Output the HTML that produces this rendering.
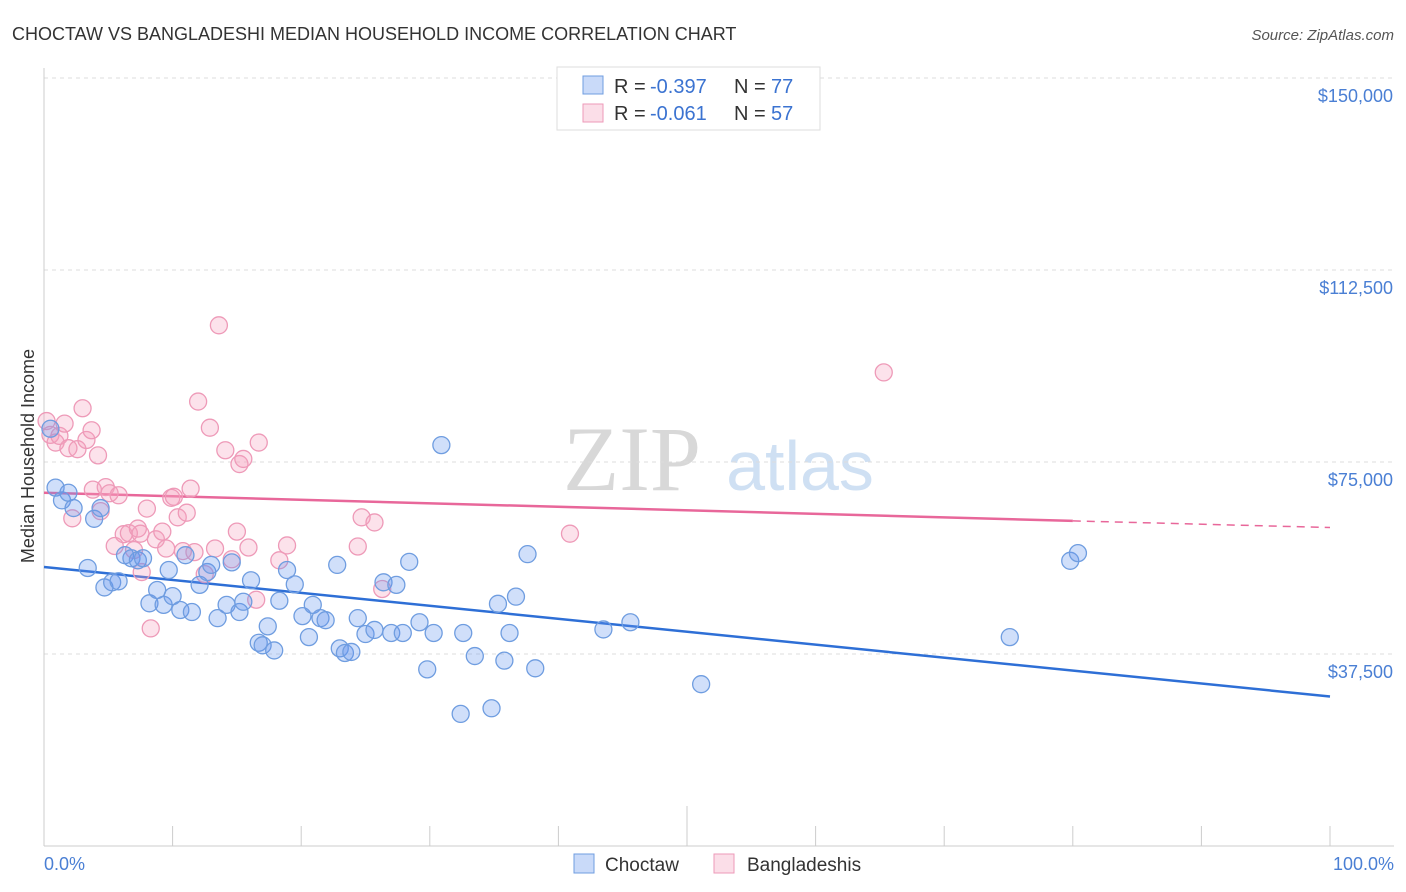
<!DOCTYPE html>
<html><head><meta charset="utf-8"><style>
body{margin:0;background:#fff;font-family:"Liberation Sans",sans-serif}
svg{display:block}
</style></head><body>
<svg width="1406" height="892" viewBox="0 0 1406 892" xmlns="http://www.w3.org/2000/svg" font-family="Liberation Sans, sans-serif">
<text x="12" y="40" font-size="18" fill="#333">CHOCTAW VS BANGLADESHI MEDIAN HOUSEHOLD INCOME CORRELATION CHART</text>
<text x="1394" y="40" font-size="15" fill="#555" text-anchor="end" font-style="italic">Source: ZipAtlas.com</text>
<g><text x="632" y="490" font-size="92" fill="#d8d8d8" font-family="Liberation Serif, serif" text-anchor="middle">ZIP</text><text x="800" y="490" font-size="70" fill="#cfe0f3" text-anchor="middle">atlas</text></g>
<g id="grid"></g>
<line x1="44" y1="68" x2="44" y2="846" stroke="#ccc"/>
<line x1="44" y1="846" x2="1394" y2="846" stroke="#ccc"/>
<g id="xticks"></g>
<text transform="translate(34,456) rotate(-90)" font-size="18" fill="#333" text-anchor="middle">Median Household Income</text>
<text x="44" y="870" font-size="18" fill="#4a7fd4">0.0%</text>
<text x="1394" y="870" font-size="18" fill="#4a7fd4" text-anchor="end">100.0%</text>
<g id="lines"></g>
<g id="pts"></g>
<g>
<rect x="557" y="67" width="263" height="63" fill="#fff" stroke="#ddd"/>
<rect x="583" y="76" width="20" height="18" fill="rgba(100,149,237,0.35)" stroke="#6f9de0"/>
<rect x="583" y="104" width="20" height="18" fill="rgba(244,160,190,0.35)" stroke="#ee9ab8"/>
<text x="614" y="93" font-size="20" fill="#333">R =</text><text x="650" y="93" font-size="20" fill="#3b73d1">-0.397</text>
<text x="734" y="93" font-size="20" fill="#333">N =</text><text x="771" y="93" font-size="20" fill="#3b73d1">77</text>
<text x="614" y="120" font-size="20" fill="#333">R =</text><text x="650" y="120" font-size="20" fill="#3b73d1">-0.061</text>
<text x="734" y="120" font-size="20" fill="#333">N =</text><text x="771" y="120" font-size="20" fill="#3b73d1">57</text>
</g>
<g>
<rect x="574" y="854" width="20" height="19" fill="rgba(100,149,237,0.35)" stroke="#6f9de0"/>
<text x="605" y="871" font-size="19" fill="#333">Choctaw</text>
<rect x="714" y="854" width="20" height="19" fill="rgba(244,160,190,0.35)" stroke="#ee9ab8"/>
<text x="747" y="871" font-size="19" fill="#333">Bangladeshis</text>
</g>
</svg>
<script>
const yTicks=[37500,75000,112500,150000];
const yTickLabels=["$37,500","$75,000","$112,500","$150,000"];
const choctawX=[0.5,0.9,1.4,1.9,2.3,3.4,3.9,4.4,4.7,5.3,5.8,6.3,6.8,7.3,7.7,8.2,8.8,9.3,9.7,10.0,10.6,11.0,11.5,12.1,12.7,13.0,13.5,14.2,14.6,15.2,15.5,16.1,16.7,17.0,17.4,17.9,18.3,18.9,19.5,20.1,20.6,20.9,21.5,21.9,22.8,23.0,23.4,23.9,24.4,25.0,25.7,26.4,27.0,27.4,27.9,28.4,29.2,29.8,30.3,30.9,32.4,32.6,33.5,34.8,35.3,35.8,36.2,36.7,37.6,38.2,43.5,45.6,51.1,75.1,79.8,80.4];
const choctawY=[81500,70000,67500,69000,66000,54300,63900,66000,50500,51500,51700,56800,56200,55800,56200,47400,50000,47100,53900,48800,46100,56800,45700,51000,53500,54900,44500,47100,55400,45700,47700,51900,39700,39200,42900,38200,47900,53900,51100,44900,40800,47100,44500,44100,54900,38600,37700,37900,44500,41400,42200,51500,41600,51000,41600,55500,43700,34500,41600,78300,25800,41600,37100,26900,47300,36200,41600,48700,57000,34700,42300,43700,31600,40800,55700,57200];
const banglaX=[0.2,0.5,0.9,1.2,1.6,1.9,2.2,2.6,3.0,3.3,3.7,3.8,4.2,4.4,4.8,5.1,5.5,5.8,6.2,6.6,7.0,7.3,7.6,8.0,8.3,8.7,9.2,9.5,9.9,10.1,10.4,10.8,11.1,11.4,11.7,11.985,12.5,12.9,13.3,13.6,14.1,14.6,15.0,15.2,15.5,15.9,16.5,16.7,18.3,18.9,24.7,24.4,25.7,26.3,40.9,65.3,7.5];
const banglaY=[83000,80300,78800,80100,82500,77700,64000,77500,85500,79300,81200,69600,76300,65400,70100,68900,58600,68500,60900,61100,57800,62000,53500,65900,42500,59900,61400,58100,68000,68200,64200,57600,65100,69800,57400,86800,53100,81700,58100,101700,77300,56000,61400,74600,75600,58300,48100,78800,55800,58700,64200,58500,63200,50200,61000,92500,61000];
const blueTrend=[[0,54500],[100,29200]];
const pinkTrend=[[0,69000],[80,63500],[100,62200]];
const NS="http://www.w3.org/2000/svg";
const X0=44,X1=1330,Y0=846,PX=192/37500;
const sx=v=>X0+(X1-X0)*v/100, sy=v=>Y0-v*PX;
function mk(t,a,p){const e=document.createElementNS(NS,t);for(const k in a)e.setAttribute(k,a[k]);p.appendChild(e);return e;}
const grid=document.getElementById('grid');
yTicks.forEach((t,i)=>{
 const l=mk('line',{x1:44,x2:1394,y1:sy(t),y2:sy(t),stroke:'#ddd','stroke-dasharray':'4,4'},grid);
 
 
 const tx=mk('text',{x:1393,y:sy(t)+24,'font-size':18,fill:'#4a7fd4','text-anchor':'end'},grid);
 tx.textContent=yTickLabels[i];
 
 
});
const xt=document.getElementById('xticks');
for(let i=0;i<=10;i++){
 const l=mk('line',{x1:sx(i*10),x2:sx(i*10),y1:i==5?806:826,y2:846,stroke:'#ccc'},xt);
 
 
}
const ln=document.getElementById('lines');
let b=mk('line',{x1:sx(blueTrend[0][0]),y1:sy(blueTrend[0][1]),x2:sx(blueTrend[1][0]),y2:sy(blueTrend[1][1]),stroke:'#2e6fd6','stroke-width':2.5},ln);


let p1=mk('line',{x1:sx(pinkTrend[0][0]),y1:sy(pinkTrend[0][1]),x2:sx(pinkTrend[1][0]),y2:sy(pinkTrend[1][1]),stroke:'#e8679a','stroke-width':2.5},ln);


let p2=mk('line',{x1:sx(pinkTrend[1][0]),y1:sy(pinkTrend[1][1]),x2:sx(pinkTrend[2][0]),y2:sy(pinkTrend[2][1]),stroke:'#e8679a','stroke-width':1.5,'stroke-dasharray':'8,6'},ln);


const pts=document.getElementById('pts');
banglaX.forEach((x,i)=>{
 const c=mk('circle',{cx:sx(x),cy:sy(banglaY[i]),r:8.5,fill:'rgba(244,160,190,0.3)',stroke:'#ee9ab8','stroke-width':1.3},pts);
 
 
});
choctawX.forEach((x,i)=>{
 const c=mk('circle',{cx:sx(x),cy:sy(choctawY[i]),r:8.5,fill:'rgba(100,149,237,0.3)',stroke:'#6f9de0','stroke-width':1.3},pts);
 
 
});
</script>
</body></html>
